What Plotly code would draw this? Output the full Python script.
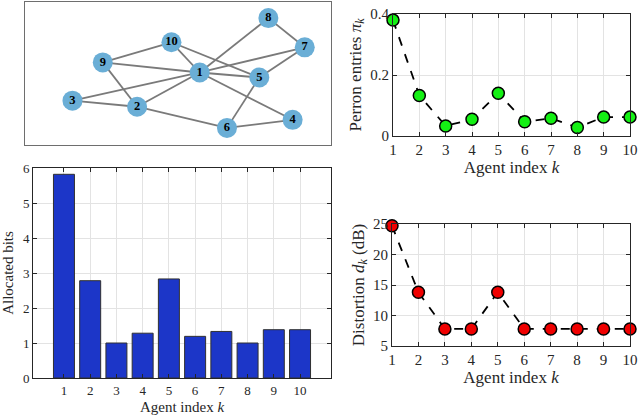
import plotly.graph_objects as go

FONT = "Liberation Serif"
AXIS_COLOR = "#262626"
GRID_COLOR = "#e3e3e3"

agents = [1, 2, 3, 4, 5, 6, 7, 8, 9, 10]
perron = [0.38, 0.133, 0.033, 0.055, 0.14, 0.047, 0.058, 0.028, 0.062, 0.062]
distortion = [24.7, 13.8, 7.8, 7.8, 13.8, 7.8, 7.8, 7.8, 7.8, 7.8]
bits = [5.82, 2.78, 1.0, 1.28, 2.83, 1.19, 1.33, 1.0, 1.38, 1.38]

# network layout (arbitrary units)
node_labels = ["1", "2", "3", "4", "5", "6", "7", "8", "9", "10"]
node_x = [188, 126, 62, 280, 247, 215, 292, 256, 92, 160]
node_y = [72, 106, 100, 119, 77, 127, 47, 18, 62, 42]
edges = [(1, 8), (1, 7), (1, 9), (1, 10), (1, 5), (1, 3), (1, 2), (1, 4),
         (9, 10), (9, 2), (3, 2), (2, 6), (6, 5), (6, 4), (8, 7), (7, 5), (10, 5)]

fig = go.Figure()

# graph edges
ex, ey = [], []
for a, b in edges:
    ex += [node_x[a - 1], node_x[b - 1], None]
    ey += [node_y[a - 1], node_y[b - 1], None]
fig.add_trace(go.Scatter(x=ex, y=ey, mode="lines", line=dict(color="#7a7a7a", width=1.8),
                         hoverinfo="skip", xaxis="x", yaxis="y"))
fig.add_trace(go.Scatter(x=node_x, y=node_y, mode="markers+text", text=["<b>%s</b>" % t for t in node_labels],
                         textfont=dict(family=FONT, size=12.5, color="black"), textposition="middle center",
                         marker=dict(size=20, color="#6aaed6", line=dict(width=0)),
                         xaxis="x", yaxis="y"))

# bar chart
fig.add_trace(go.Bar(x=agents, y=bits, width=0.8, marker=dict(color="#1c36c8", line=dict(color="#303030", width=1)),
                     xaxis="x2", yaxis="y2"))

# perron entries
fig.add_trace(go.Scatter(x=agents, y=perron, mode="lines+markers", cliponaxis=False,
                         line=dict(color="black", width=1.8, dash="dash"),
                         marker=dict(size=12, color="#14f014", line=dict(color="black", width=1.5)),
                         xaxis="x3", yaxis="y3"))

# distortion
fig.add_trace(go.Scatter(x=agents, y=distortion, mode="lines+markers", cliponaxis=False,
                         line=dict(color="black", width=1.8, dash="dash"),
                         marker=dict(size=12, color="#f00000", line=dict(color="black", width=1.5)),
                         xaxis="x4", yaxis="y4"))


def frame(**kw):
    d = dict(showline=True, mirror="ticks", linecolor=AXIS_COLOR, linewidth=1, ticks="inside",
             ticklen=4, tickcolor=AXIS_COLOR, showgrid=True, gridcolor=GRID_COLOR, zeroline=False,
             automargin=False, tickfont=dict(family=FONT, size=15, color=AXIS_COLOR))
    d.update(kw)
    return d


def px_x(a, b):
    return [a / 640, b / 640]


def px_y(top, bottom):
    return [1 - bottom / 419, 1 - top / 419]


title_font = dict(family=FONT, size=17, color=AXIS_COLOR)
small_title = dict(family=FONT, size=15, color=AXIS_COLOR)

fig.update_layout(
    width=640, height=419, margin=dict(l=0, r=0, t=0, b=0),
    paper_bgcolor="white", plot_bgcolor="white", showlegend=False,
    xaxis=dict(domain=px_x(25, 331), range=[15, 318], anchor="y", showline=True, mirror=True, linecolor="#6e6e6e",
               showticklabels=False, showgrid=False, zeroline=False, ticks="", automargin=False),
    yaxis=dict(domain=px_y(2, 145), range=[144, 2], anchor="x", showline=True, mirror=True, linecolor="#6e6e6e",
               showticklabels=False, showgrid=False, zeroline=False, ticks="", automargin=False),
    xaxis2=frame(domain=px_x(33, 331), range=[-0.18, 11.18], tickvals=agents, anchor="y2",
                 tickfont=dict(family=FONT, size=13, color=AXIS_COLOR),
                 title=dict(text="Agent index <i>k</i>", font=small_title, standoff=4)),
    yaxis2=frame(domain=px_y(168, 378), range=[0, 6], tickvals=[0, 1, 2, 3, 4, 5, 6], anchor="x2",
                 tickfont=dict(family=FONT, size=13, color=AXIS_COLOR),
                 title=dict(text="Allocated bits", font=small_title, standoff=6)),
    xaxis3=frame(domain=px_x(393, 630), range=[1, 10], tickvals=agents, anchor="y3",
                 title=dict(text="Agent index <i>k</i>", font=title_font, standoff=2)),
    yaxis3=frame(domain=px_y(14, 136), range=[0, 0.4], tickvals=[0, 0.2, 0.4], ticktext=["0", "0.2", "0.4"],
                 anchor="x3",
                 title=dict(text="Perron entries <i>π<sub>k</sub></i>", font=title_font, standoff=4)),
    xaxis4=frame(domain=px_x(392, 630), range=[1, 10], tickvals=agents, anchor="y4",
                 title=dict(text="Agent index <i>k</i>", font=title_font, standoff=2)),
    yaxis4=frame(domain=px_y(224, 346), range=[5, 25], tickvals=[5, 10, 15, 20, 25], anchor="x4",
                 title=dict(text="Distortion <i>d<sub>k</sub></i> (dB)", font=title_font, standoff=4)),
)

# drop the browser's default page margin so the figure sits at the window corner
fig.write_html("out.html", config={"displayModeBar": False},
               post_script="document.body.style.margin='0';")
